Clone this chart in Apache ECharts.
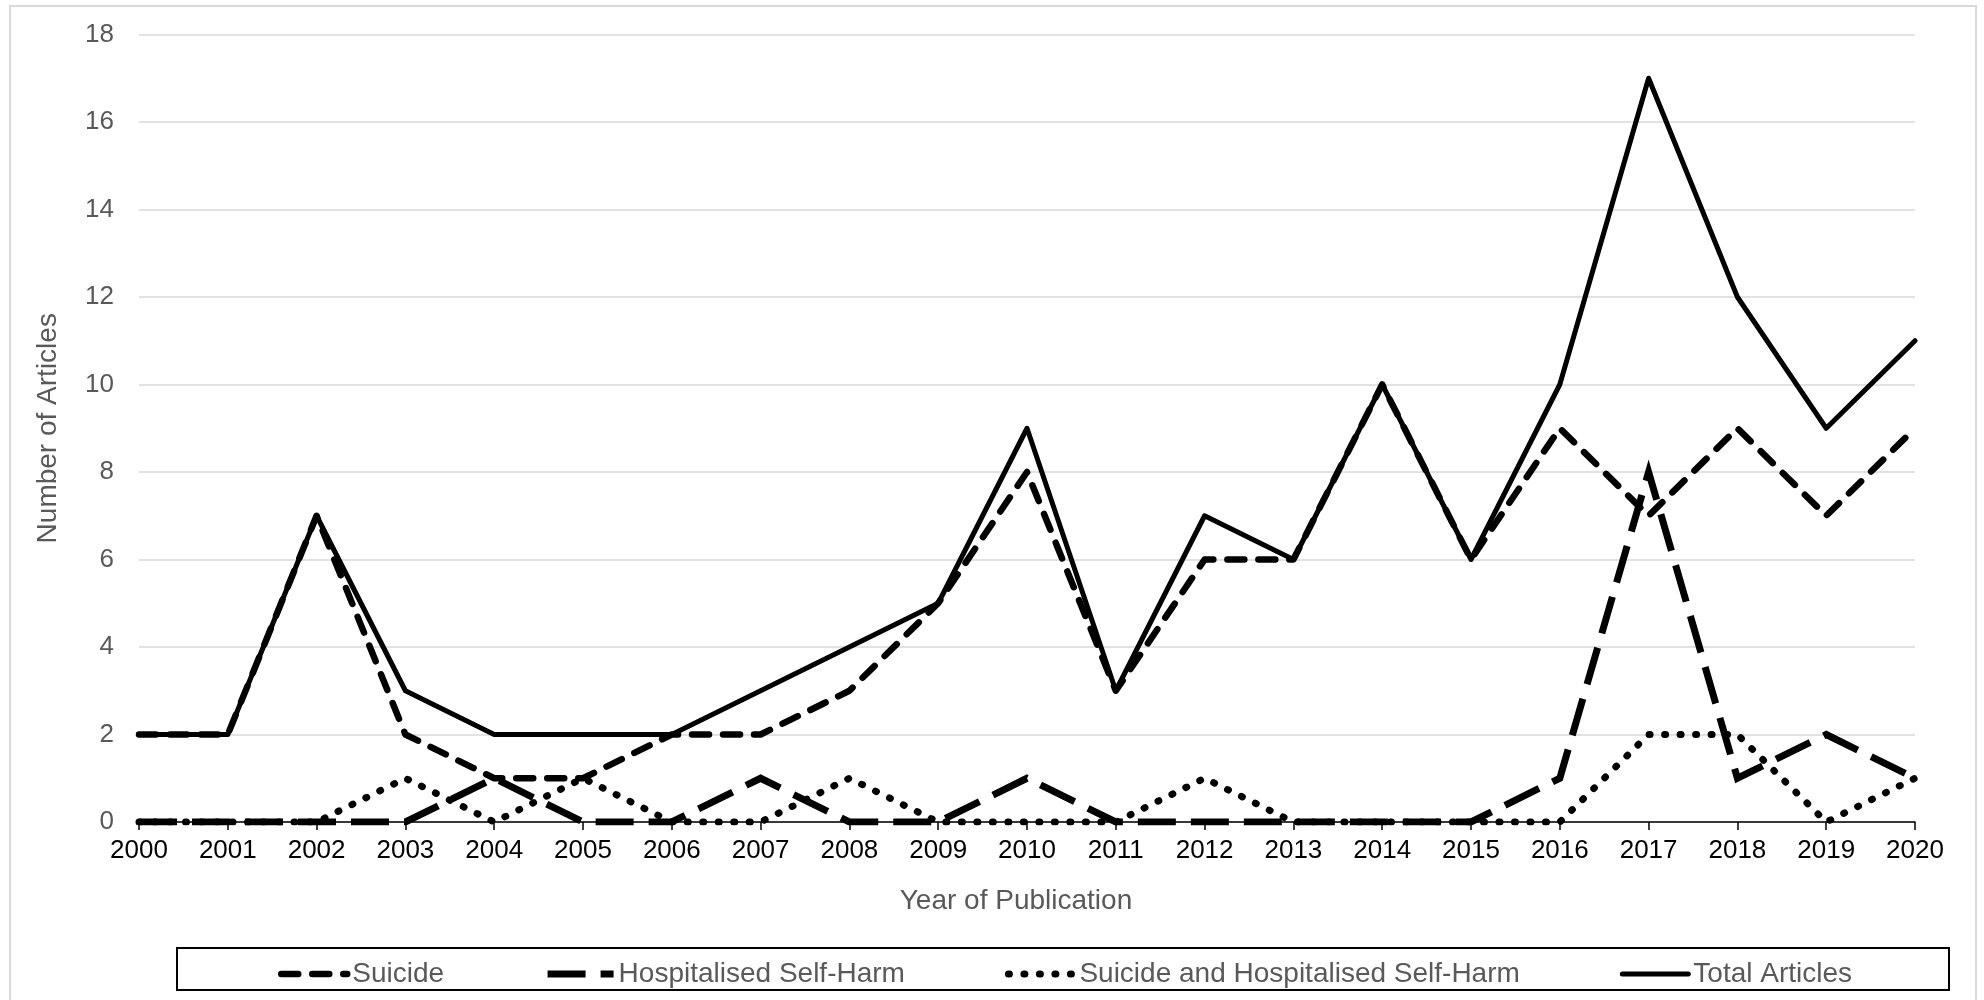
<!DOCTYPE html>
<html>
<head>
<meta charset="utf-8">
<script src="https://cdn.jsdelivr.net/npm/echarts@6/dist/echarts.min.js"></script>
<style>
html,body{margin:0;padding:0;background:#fff;}
#chart{width:1984px;height:1000px;}
</style>
</head>
<body>
<div id="chart"></div>
<script>
const years = ['2000','2001','2002','2003','2004','2005','2006','2007','2008','2009','2010','2011','2012','2013','2014','2015','2016','2017','2018','2019','2020'];
const suicide = [2,2,7,2,1,1,2,2,3,5,8,3,6,6,10,6,9,7,9,7,9];
const hospitalisedSelfHarm = [0,0,0,0,1,0,0,1,0,0,1,0,0,0,0,0,1,8,1,2,1];
const suicideAndSelfHarm = [0,0,0,1,0,1,0,0,1,0,0,0,1,0,0,0,0,2,2,0,1];
const totalArticles = [2,2,7,3,2,2,2,3,4,5,9,3,7,6,10,6,10,17,12,9,11];
const yTicks = {min:0, max:18, interval:2};

const FONT = '"Liberation Sans", Arial, sans-serif';
const styles = {
  suicide: {color:'#000', width:6.5, type:[17,14], cap:'round', join:'round'},
  hosp: {color:'#000', width:7, type:[38,15], cap:'butt', join:'miter'},
  both: {color:'#000', width:7, type:[1,14.5], cap:'round', join:'round'},
  total: {color:'#000', width:5, type:'solid', cap:'round', join:'round'}
};
const chart = echarts.init(document.getElementById('chart'));
chart.setOption({
  animation: false,
  backgroundColor: '#fff',
  textStyle: {fontFamily: FONT},
  graphic: [
    {type:'rect', shape:{x:10, y:6, width:1966, height:1010}, style:{fill:'none', stroke:'#d9d9d9', lineWidth:2}, z:-10},
    {type:'rect', shape:{x:177, y:948, width:1772, height:42}, style:{fill:'none', stroke:'#000', lineWidth:2}, z:-5}
  ],
  grid: {left:139, right:69, top:34.5, bottom:178, outerBoundsMode:'none'},
  legend: {
    left: 273, top: 955,
    itemWidth: 66, itemHeight: 8, itemGap: 100,
    itemStyle: {opacity: 0},
    textStyle: {fontSize:28, color:'#595959', fontFamily: FONT},
    data: [
      {name:'Suicide', lineStyle: styles.suicide},
      {name:'Hospitalised Self-Harm', lineStyle: styles.hosp},
      {name:'Suicide and Hospitalised Self-Harm', lineStyle: styles.both},
      {name:'Total Articles', lineStyle: styles.total}
    ]
  },
  xAxis: {
    type: 'category', data: years, boundaryGap: false,
    name: 'Year of Publication', nameLocation: 'middle', nameGap: 65,
    nameTextStyle: {fontSize:28, color:'#595959', fontFamily: FONT, padding:[0,22,0,0]},
    axisLine: {lineStyle:{color:'#000', width:1.5}},
    axisTick: {show:true, length:8, lineStyle:{color:'#000', width:1.5}},
    axisLabel: {fontSize:26, color:'#000', margin:16, fontFamily: FONT, interval:0},
    splitLine: {show:false}
  },
  yAxis: {
    type: 'value', min: yTicks.min, max: yTicks.max, interval: yTicks.interval,
    name: 'Number of Articles', nameLocation: 'middle', nameGap: 77, nameRotate: 90,
    nameTextStyle: {fontSize:28, color:'#595959', fontFamily: FONT},
    axisLine: {show:false}, axisTick: {show:false},
    axisLabel: {fontSize:26, color:'#595959', margin:25, fontFamily: FONT},
    splitLine: {lineStyle:{color:'#d9d9d9', width:1.5}}
  },
  series: [
    {name:'Suicide', type:'line', data:suicide, symbol:'none', z:3, lineStyle:styles.suicide, itemStyle:{color:'#000'}},
    {name:'Hospitalised Self-Harm', type:'line', data:hospitalisedSelfHarm, symbol:'none', z:3, lineStyle:styles.hosp, itemStyle:{color:'#000'}},
    {name:'Suicide and Hospitalised Self-Harm', type:'line', data:suicideAndSelfHarm, symbol:'none', z:3, lineStyle:styles.both, itemStyle:{color:'#000'}},
    {name:'Total Articles', type:'line', data:totalArticles, symbol:'none', z:3, lineStyle:styles.total, itemStyle:{color:'#000'}}
  ]
});
</script>
</body>
</html>
